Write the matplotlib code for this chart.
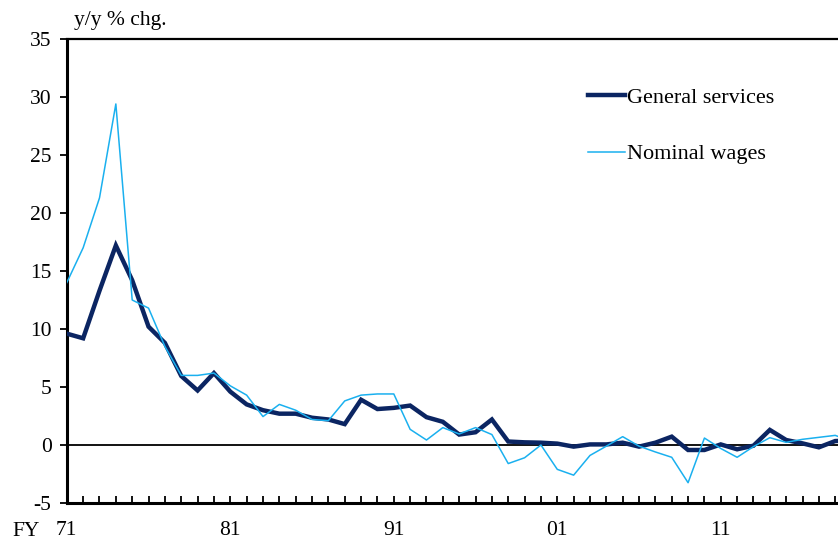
import matplotlib.pyplot as plt
import numpy as np
from matplotlib.ticker import FixedLocator, MultipleLocator

plt.rcParams['font.family'] = ['Liberation Serif', 'DejaVu Serif']
plt.rcParams['axes.unicode_minus'] = False

years = np.arange(1971, 2020)
general_services = [9.6, 9.2, 13.3, 17.2, 14.2, 10.2, 8.8, 5.95, 4.7, 6.2,
                    4.6, 3.5, 3.0, 2.7, 2.7, 2.35, 2.2, 1.8, 3.9, 3.1,
                    3.2, 3.4, 2.4, 2.0, 0.9, 1.1, 2.2, 0.3, 0.23, 0.2,
                    0.12, -0.14, 0.05, 0.05, 0.2, -0.14, 0.2, 0.72, -0.43, -0.43,
                    0.05, -0.37, -0.06, 1.3, 0.43, 0.14, -0.2, 0.34, 0.4]
nominal_wages = [14.0, 17.0, 21.3, 29.4, 12.5, 11.8, 8.5, 6.0, 6.0, 6.2,
                 5.1, 4.3, 2.45, 3.5, 3.0, 2.2, 2.1, 3.8, 4.3, 4.4,
                 4.4, 1.35, 0.43, 1.5, 0.95, 1.5, 0.9, -1.6, -1.1, 0.0,
                 -2.1, -2.6, -0.9, -0.1, 0.72, -0.1, -0.6, -1.06, -3.25, 0.6,
                 -0.3, -1.06, -0.14, 0.63, 0.23, 0.49, 0.66, 0.83, 0.3]
label_years = [1971, 1981, 1991, 2001, 2011]
label_text = ['71', '81', '91', '01', '11']

fig = plt.figure(figsize=(8.38, 5.43), dpi=100)
ax = fig.add_axes([66.8/838, 40/543, 1 - 66.8/838, 464/543])

ax.plot(years, general_services, color='#0b2562', lw=3.2,
        label='General services', solid_joinstyle='miter', zorder=3)
ax.plot(years, nominal_wages, color='#1ab0ef', lw=1.1,
        label='Nominal wages', zorder=4)
ax.axhline(0, color='black', lw=1.3, zorder=2)

ax.set_xlim(1971, 2018.17)
ax.set_ylim(-5, 35)
ax.yaxis.set_major_locator(MultipleLocator(5))
ax.xaxis.set_major_locator(FixedLocator(label_years))
ax.set_xticklabels(label_text)
ax.xaxis.set_minor_locator(MultipleLocator(1))
ax.tick_params(axis='x', which='both', direction='in', length=5, width=1.3,
               labelsize=15.5, pad=13)
ax.tick_params(axis='y', direction='out', length=5, width=1.3, labelsize=15.5, pad=6)

for s in ['left', 'bottom']:
    ax.spines[s].set_linewidth(2.2)
ax.spines['top'].set_linewidth(1.6)
ax.spines['right'].set_visible(False)

ax.legend(loc='upper left', bbox_to_anchor=(0.676, 0.895), frameon=False,
          fontsize=16, handlelength=1.65, handletextpad=0.12,
          labelspacing=1.6, borderpad=0, borderaxespad=0)

fig.text(74/838, 1 - 21/543, 'y/y % chg.', fontsize=15.5, va='center', ha='left')
fig.text(12/838, 1 - 531/543, 'FY', fontsize=15.5, va='center', ha='left')

fig.savefig('out.png', dpi=100)
